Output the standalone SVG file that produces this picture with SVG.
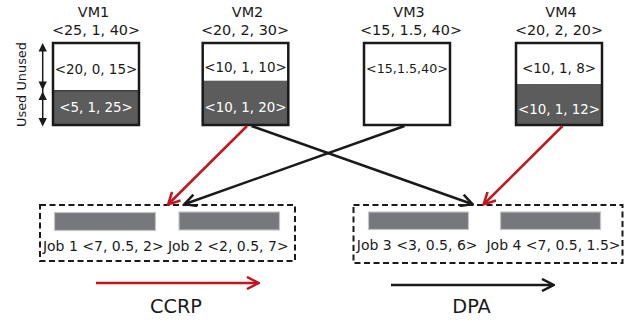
<svg xmlns="http://www.w3.org/2000/svg" width="636" height="320" viewBox="0 0 636 320">
<style>
text{font-family:"DejaVu Sans","Open Sans","Liberation Sans",sans-serif;fill:#1a1a1a;text-anchor:middle}
.hd{font-size:14.4px}
.in{font-size:13.5px}
.inw{font-size:13.4px;fill:#ffffff}
.job{font-size:14px}
.alg{font-size:19.3px}
.vm{fill:#ffffff;stroke:#1a1a1a;stroke-width:2.5}
.frame{fill:none;stroke:#1a1a1a;stroke-width:2.5}
.used{fill:#5c5c5c}
.bar{fill:#77787b;stroke:#c4c4c4;stroke-width:1.2}
.grp{fill:none;stroke:#1a1a1a;stroke-width:2;stroke-dasharray:6 3.5}
.red{stroke:#c1161e;stroke-width:2.5;fill:none}
.blk{stroke:#1a1a1a;stroke-width:2.5;fill:none}
</style>
<defs>
<marker id="ar" viewBox="0 0 14 14" refX="12" refY="7" markerWidth="14" markerHeight="14" markerUnits="userSpaceOnUse" orient="auto">
<path d="M1,1 L12.5,7 L1,13" fill="none" stroke="#c1161e" stroke-width="2.5"/>
</marker>
<marker id="ab" viewBox="0 0 14 14" refX="12" refY="7" markerWidth="14" markerHeight="14" markerUnits="userSpaceOnUse" orient="auto">
<path d="M1,1 L12.5,7 L1,13" fill="none" stroke="#1a1a1a" stroke-width="2.5"/>
</marker>
</defs>
<g id="legend-used-unused">
<line x1="42.7" y1="47" x2="42.7" y2="122" stroke="#1a1a1a" stroke-width="1.5"/>
<polygon points="42.7,43 38.5,51.5 46.9,51.5" fill="#1a1a1a"/>
<polygon points="42.7,90 38.5,81.5 46.9,81.5" fill="#1a1a1a"/>
<polygon points="42.7,91.5 38.5,100 46.9,100" fill="#1a1a1a"/>
<polygon points="42.7,126.5 38.5,118 46.9,118" fill="#1a1a1a"/>
<text transform="translate(25.5,84.5) rotate(-90)" style="font-size:12.9px">Used Unused</text>
</g>
<g id="vm1">
<text class="hd" x="93.5" y="17.3">VM1</text>
<text class="hd" x="96" y="35">&lt;25, 1, 40&gt;</text>
<rect class="used" x="53" y="90.7" width="86" height="34.3"/>
<rect class="frame" x="53" y="43" width="86" height="82"/>
<line x1="53" y1="90.7" x2="139" y2="90.7" stroke="#1a1a1a" stroke-width="1"/>
<text class="in" x="96" y="74">&lt;20, 0, 15&gt;</text>
<text class="inw" x="96" y="111.7">&lt;5, 1, 25&gt;</text>
</g>
<g id="vm2">
<text class="hd" x="247.5" y="17.3">VM2</text>
<text class="hd" x="245" y="35">&lt;20, 2, 30&gt;</text>
<rect class="used" x="202.7" y="80.7" width="85.6" height="44.3"/>
<rect class="frame" x="202.7" y="43" width="85.6" height="82"/>
<text class="in" x="245.5" y="71.7">&lt;10, 1, 10&gt;</text>
<text class="inw" x="245.5" y="111.7">&lt;10, 1, 20&gt;</text>
</g>
<g id="vm3">
<text class="hd" x="409" y="17.3">VM3</text>
<text class="hd" x="411" y="35">&lt;15, 1.5, 40&gt;</text>
<rect class="vm" x="364" y="43" width="86" height="82"/>
<text class="in" x="407" y="73.3" style="font-size:12.7px">&lt;15,1.5,40&gt;</text>
</g>
<g id="vm4">
<text class="hd" x="561" y="17.3">VM4</text>
<text class="hd" x="559" y="35">&lt;20, 2, 20&gt;</text>
<rect class="used" x="516" y="84" width="86" height="41"/>
<rect class="frame" x="516" y="43" width="86" height="82"/>
<text class="in" x="559" y="73.3">&lt;10, 1, 8&gt;</text>
<text class="inw" x="559" y="114">&lt;10, 1, 12&gt;</text>
</g>
<g id="ccrp-jobs">
<rect class="grp" x="40" y="205" width="255" height="56"/>
<rect class="bar" x="54.5" y="212.5" width="101" height="18"/>
<rect class="bar" x="179" y="212" width="100.5" height="18"/>
<text class="job" x="103.3" y="251">Job 1 &lt;7, 0.5, 2&gt;</text>
<text class="job" x="228.3" y="251">Job 2 &lt;2, 0.5, 7&gt;</text>
</g>
<g id="dpa-jobs">
<rect class="grp" x="353.5" y="205" width="269" height="58"/>
<rect class="bar" x="368.5" y="212" width="100" height="17.5"/>
<rect class="bar" x="500.5" y="212" width="100" height="17.5"/>
<text class="job" x="417.2" y="250">Job 3 &lt;3, 0.5, 6&gt;</text>
<text class="job" x="553.5" y="250">Job 4 &lt;7, 0.5, 1.5&gt;</text>
</g>
<g id="connectors">
<line class="red" x1="247" y1="126" x2="168.5" y2="204" marker-end="url(#ar)"/>
<line class="blk" x1="251.5" y1="126" x2="472" y2="204" marker-end="url(#ab)"/>
<line class="blk" x1="404.5" y1="126" x2="185" y2="204" marker-end="url(#ab)"/>
<line class="red" x1="562.5" y1="126" x2="484" y2="204" marker-end="url(#ar)"/>
<line class="red" x1="96" y1="283" x2="258" y2="283" marker-end="url(#ar)"/>
<line class="blk" x1="391" y1="285" x2="553" y2="285" marker-end="url(#ab)"/>
</g>
<g id="labels">
<text class="alg" x="176" y="313.3">CCRP</text>
<text class="alg" x="471.5" y="313.3">DPA</text>
</g>
</svg>
